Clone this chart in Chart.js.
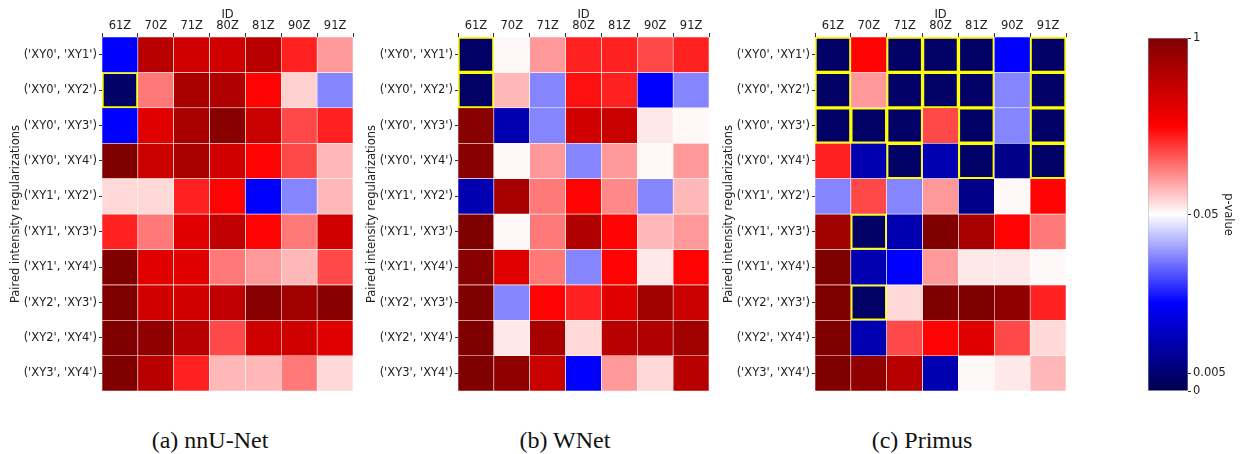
<!DOCTYPE html>
<html>
<head>
<meta charset="utf-8">
<script src="https://cdn.jsdelivr.net/npm/chart.js@4.4.1/dist/chart.umd.min.js"></script>
<style>
  body { margin: 0; background: #fff; }
  #wrap { position: relative; width: 1244px; height: 454px; overflow: hidden; }
  .panel { position: absolute; top: 0; width: 356px; height: 400px; }
  .cbar { position: absolute; top: 0; left: 1100px; width: 144px; height: 400px; }
  .cap { position: absolute; top: 428px; line-height: 24px; font-family: "Liberation Serif", serif; font-size: 24px; color: #111; transform: translateX(-50%); white-space: nowrap; }
</style>
</head>
<body>
<div id="wrap">
  <div class="panel" style="left:0px"><canvas id="chartA"></canvas></div>
  <div class="panel" style="left:356px"><canvas id="chartB"></canvas></div>
  <div class="panel" style="left:713px"><canvas id="chartC"></canvas></div>
  <div class="cbar"><canvas id="cbar"></canvas></div>
  <div class="cap" style="left:210px">(a) nnU-Net</div>
  <div class="cap" style="left:565px">(b) WNet</div>
  <div class="cap" style="left:922px">(c) Primus</div>
</div>
<script>
// columns and rows
const ids = ['61Z', '70Z', '71Z', '80Z', '81Z', '90Z', '91Z'];
const pairs = ["('XY0', 'XY1')", "('XY0', 'XY2')", "('XY0', 'XY3')", "('XY0', 'XY4')", "('XY1', 'XY2')",
               "('XY1', 'XY3')", "('XY1', 'XY4')", "('XY2', 'XY3')", "('XY2', 'XY4')", "('XY3', 'XY4')"];

// p-values, one row per pair
const pNnunet = [
  [0.025, 0.79, 0.70, 0.70, 0.79, 0.465, 0.242],
  [0.0036, 0.30, 0.85, 0.82, 0.52, 0.137, 0.038],
  [0.025, 0.64, 0.85, 0.97, 0.73, 0.39, 0.465],
  [1.0, 0.73, 0.85, 0.70, 0.52, 0.39, 0.182],
  [0.123, 0.123, 0.465, 0.52, 0.025, 0.038, 0.182],
  [0.465, 0.30, 0.64, 0.76, 0.52, 0.30, 0.70],
  [1.0, 0.64, 0.64, 0.30, 0.242, 0.182, 0.39],
  [1.0, 0.70, 0.70, 0.76, 0.97, 0.88, 0.97],
  [1.0, 0.94, 0.79, 0.39, 0.70, 0.70, 0.64],
  [1.0, 0.79, 0.465, 0.182, 0.182, 0.30, 0.123]
];
const pWnet = [
  [0.0036, 0.063, 0.242, 0.465, 0.465, 0.39, 0.465],
  [0.0035, 0.182, 0.038, 0.495, 0.465, 0.025, 0.038],
  [0.97, 0.0139, 0.038, 0.70, 0.73, 0.093, 0.063],
  [0.97, 0.063, 0.242, 0.038, 0.242, 0.063, 0.242],
  [0.0139, 0.85, 0.30, 0.52, 0.27, 0.038, 0.182],
  [1.0, 0.063, 0.30, 0.82, 0.52, 0.182, 0.242],
  [0.97, 0.64, 0.30, 0.038, 0.52, 0.093, 0.52],
  [1.0, 0.038, 0.52, 0.465, 0.64, 0.88, 0.73],
  [1.0, 0.093, 0.85, 0.123, 0.79, 0.82, 0.88],
  [1.0, 0.94, 0.73, 0.025, 0.242, 0.123, 0.79]
];
const pPrimus = [
  [0.0036, 0.52, 0.0035, 0.0036, 0.0034, 0.025, 0.0036],
  [0.0035, 0.242, 0.0036, 0.0035, 0.0036, 0.038, 0.0035],
  [0.0036, 0.0034, 0.0036, 0.39, 0.0035, 0.038, 0.0036],
  [0.465, 0.0139, 0.0035, 0.0139, 0.0036, 0.0083, 0.0035],
  [0.038, 0.39, 0.038, 0.242, 0.0083, 0.063, 0.52],
  [0.88, 0.0036, 0.0139, 1.0, 0.85, 0.52, 0.30],
  [1.0, 0.0139, 0.025, 0.242, 0.093, 0.093, 0.063],
  [1.0, 0.0035, 0.123, 1.0, 1.0, 0.94, 0.465],
  [1.0, 0.0139, 0.39, 0.52, 0.64, 0.39, 0.123],
  [1.0, 0.94, 0.79, 0.0139, 0.063, 0.093, 0.182]
];

// colorbar ticks and where they sit along the bar (0 = bottom, 1 = top)
const cbarTicks = [0, 0.005, 0.05, 1];
const cbarPos = [0, 0.05, 0.5, 1];
const alpha = 0.005;

Chart.defaults.font.family = 'DejaVu Sans';
Chart.defaults.font.size = 11.5;
Chart.defaults.color = '#222';

function pToT(p) {
  for (let i = 1; i < cbarTicks.length; i++) {
    if (p <= cbarTicks[i]) {
      const f = (p - cbarTicks[i - 1]) / (cbarTicks[i] - cbarTicks[i - 1]);
      return cbarPos[i - 1] + f * (cbarPos[i] - cbarPos[i - 1]);
    }
  }
  return 1;
}

// matplotlib "seismic"
function seismic(t) {
  let r, g, b;
  if (t < 0.25) { r = 0; g = 0; b = 0.3 + 0.7 * t / 0.25; }
  else if (t < 0.5) { r = g = (t - 0.25) / 0.25; b = 1; }
  else if (t < 0.75) { r = 1; g = b = 1 - (t - 0.5) / 0.25; }
  else { r = 1 - 0.5 * (t - 0.75) / 0.25; g = 0; b = 0; }
  return `rgb(${Math.round(r * 255)},${Math.round(g * 255)},${Math.round(b * 255)})`;
}

function heatmap(canvasId, values) {
  new Chart(document.getElementById(canvasId), {
    type: 'bar',
    data: {
      labels: ids,
      datasets: pairs.map((pair, r) => ({
        label: pair,
        data: ids.map(() => 1),
        backgroundColor: values[r].map(p => seismic(pToT(p))),
        borderColor: values[r].map(p => p < alpha ? '#ffff00' : '#ffffff'),
        borderWidth: values[r].map(p => p < alpha ? 2 : 0.6),
        borderSkipped: false,
        barPercentage: 1,
        categoryPercentage: 1
      }))
    },
    options: {
      responsive: true,
      maintainAspectRatio: false,
      animation: false,
      layout: { padding: { left: 0, right: 3, top: 0, bottom: 4 } },
      plugins: { legend: { display: false }, tooltip: { enabled: false } },
      scales: {
        x: {
          position: 'top',
          stacked: true,
          grid: { drawOnChartArea: false, tickLength: 4, color: '#333' },
          border: { display: false },
          ticks: { padding: 0 },
          title: { display: true, text: 'ID', padding: { top: 8, bottom: 0 } },
          afterFit: s => { s.height = 37; }
        },
        y: {
          type: 'linear',
          stacked: true,
          reverse: true,
          min: 0,
          max: 10,
          afterBuildTicks: ax => { ax.ticks = pairs.map((_, i) => ({ value: i + 0.5 })); },
          ticks: { autoSkip: false, padding: 2, callback: (v, i) => pairs[i] },
          grid: { drawOnChartArea: false, tickLength: 3, color: '#333' },
          border: { display: false },
          title: { display: true, text: 'Paired intensity regularizations', padding: { top: 9, bottom: 0 } },
          afterFit: s => { s.width = 102; }
        }
      }
    }
  });
}

heatmap('chartA', pNnunet);
heatmap('chartB', pWnet);
heatmap('chartC', pPrimus);

// colorbar
const aPos = pToT(alpha);
new Chart(document.getElementById('cbar'), {
  type: 'bar',
  data: {
    labels: ['p-value'],
    datasets: [
      {
        data: [[0, 1]],
        backgroundColor: c => {
          const a = c.chart.chartArea;
          if (!a) return null;
          const g = c.chart.ctx.createLinearGradient(0, a.bottom, 0, a.top);
          for (let i = 0; i <= 40; i++) g.addColorStop(i / 40, seismic(i / 40));
          return g;
        },
        borderColor: '#a8a8c8',
        borderWidth: 0.8,
        borderSkipped: false,
        grouped: false,
        barPercentage: 1,
        categoryPercentage: 1
      },
      {
        data: [[aPos - 0.003, aPos + 0.003]],
        backgroundColor: '#ffff00',
        borderWidth: 0,
        grouped: false,
        barPercentage: 1,
        categoryPercentage: 1
      }
    ]
  },
  options: {
    responsive: true,
    maintainAspectRatio: false,
    animation: false,
    layout: { padding: { left: 48, right: 0, top: 38, bottom: 8 } },
    plugins: { legend: { display: false }, tooltip: { enabled: false } },
    scales: {
      x: { display: false },
      y: {
        position: 'right',
        min: 0,
        max: 1,
        afterBuildTicks: ax => { ax.ticks = cbarTicks.map(p => ({ value: pToT(p) })); },
        ticks: { autoSkip: false, padding: 2, callback: (v, i) => String(cbarTicks[i]) },
        grid: { drawOnChartArea: false, tickLength: 3, color: '#333' },
        border: { display: false },
        title: { display: true, text: 'p-value', padding: { top: 9, bottom: 0 } },
        afterFit: s => { s.width = 56; }
      }
    }
  }
});
</script>
</body>
</html>
